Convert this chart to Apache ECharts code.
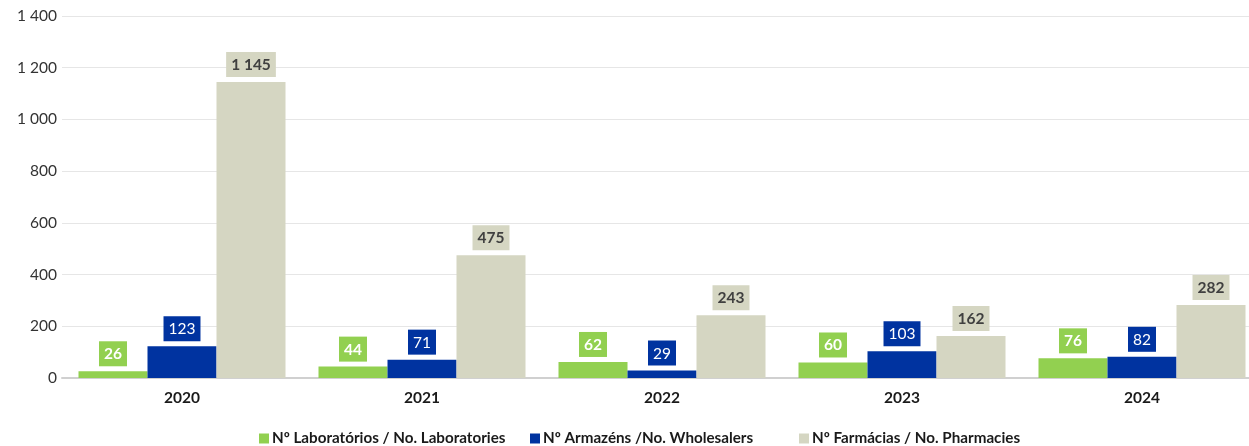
<!DOCTYPE html>
<html><head><meta charset="utf-8">
<script src="https://cdn.jsdelivr.net/npm/echarts@6/dist/echarts.min.js"></script>
<style>html,body{margin:0;padding:0;background:#fff;overflow:hidden;width:1249px;height:446px}#c{width:1262px;height:446px}</style>
</head><body><div id="c"></div>
<script>
const categories = ['2020','2021','2022','2023','2024'];
const seriesNames = ['Nº Laboratórios / No. Laboratories','Nº Armazéns /No. Wholesalers','Nº Farmácias / No. Pharmacies'];
const laboratories = [26,44,62,60,76];
const wholesalers = [123,71,29,103,82];
const pharmacies = [1145,475,243,162,282];
const yTicks = [0,200,400,600,800,1000,1200,1400];

const fmt = v => String(v).replace(/\B(?=(\d{3})+(?!\d))/g, ' ');
const FONT = 'Lato';
function lbl(bg, color, weight){
  return {show:true, position:'top', distance:5, backgroundColor:bg, color:color,
    fontWeight:weight, fontSize:15.5, fontFamily:FONT, padding:[5,5,4,5],
    formatter:p=>fmt(p.value)};
}
const legendLefts = [254, 525, 794];
const legends = seriesNames.map((n,i)=>({left:legendLefts[i],top:426,itemWidth:10,itemHeight:10,icon:'rect',
    textStyle:{fontSize:15.2,fontWeight:'bold',color:'#1a1a1a',fontFamily:FONT,padding:[0,0,0,-2]},
    data:[n]}));
const chart = echarts.init(document.getElementById('c'));
chart.setOption({
  animation:false,
  textStyle:{fontFamily:FONT},
  grid:{left:62,right:0,top:16,bottom:68,containLabel:false},
  legend:legends,
  xAxis:{type:'category',data:categories,
    axisLine:{lineStyle:{color:'#d0d0d0',width:2}},axisTick:{show:false},
    axisLabel:{fontSize:15.5,fontWeight:'bold',color:'#1a1a1a',margin:12,fontFamily:FONT}},
  yAxis:{type:'value',min:yTicks[0],max:yTicks[yTicks.length-1],interval:200,
    axisLabel:{fontSize:15.5,color:'#333',margin:5,formatter:v=>fmt(v),fontFamily:FONT},
    splitLine:{lineStyle:{color:'#e6e6e6',width:1}},axisLine:{show:false},axisTick:{show:false}},
  series:[
    {name:seriesNames[0],type:'bar',data:laboratories,barWidth:69,barGap:'0%',
     itemStyle:{color:'#92D050'},label:lbl('#92D050','#fff','bold')},
    {name:seriesNames[1],type:'bar',data:wholesalers,barWidth:69,barGap:'0%',
     itemStyle:{color:'#0033A0'},label:lbl('#0033A0','#fff','normal')},
    {name:seriesNames[2],type:'bar',data:pharmacies,barWidth:69,barGap:'0%',
     itemStyle:{color:'#D5D6C2'},label:lbl('#D5D6C2','#404040','bold')}
  ]
});
</script></body></html>
